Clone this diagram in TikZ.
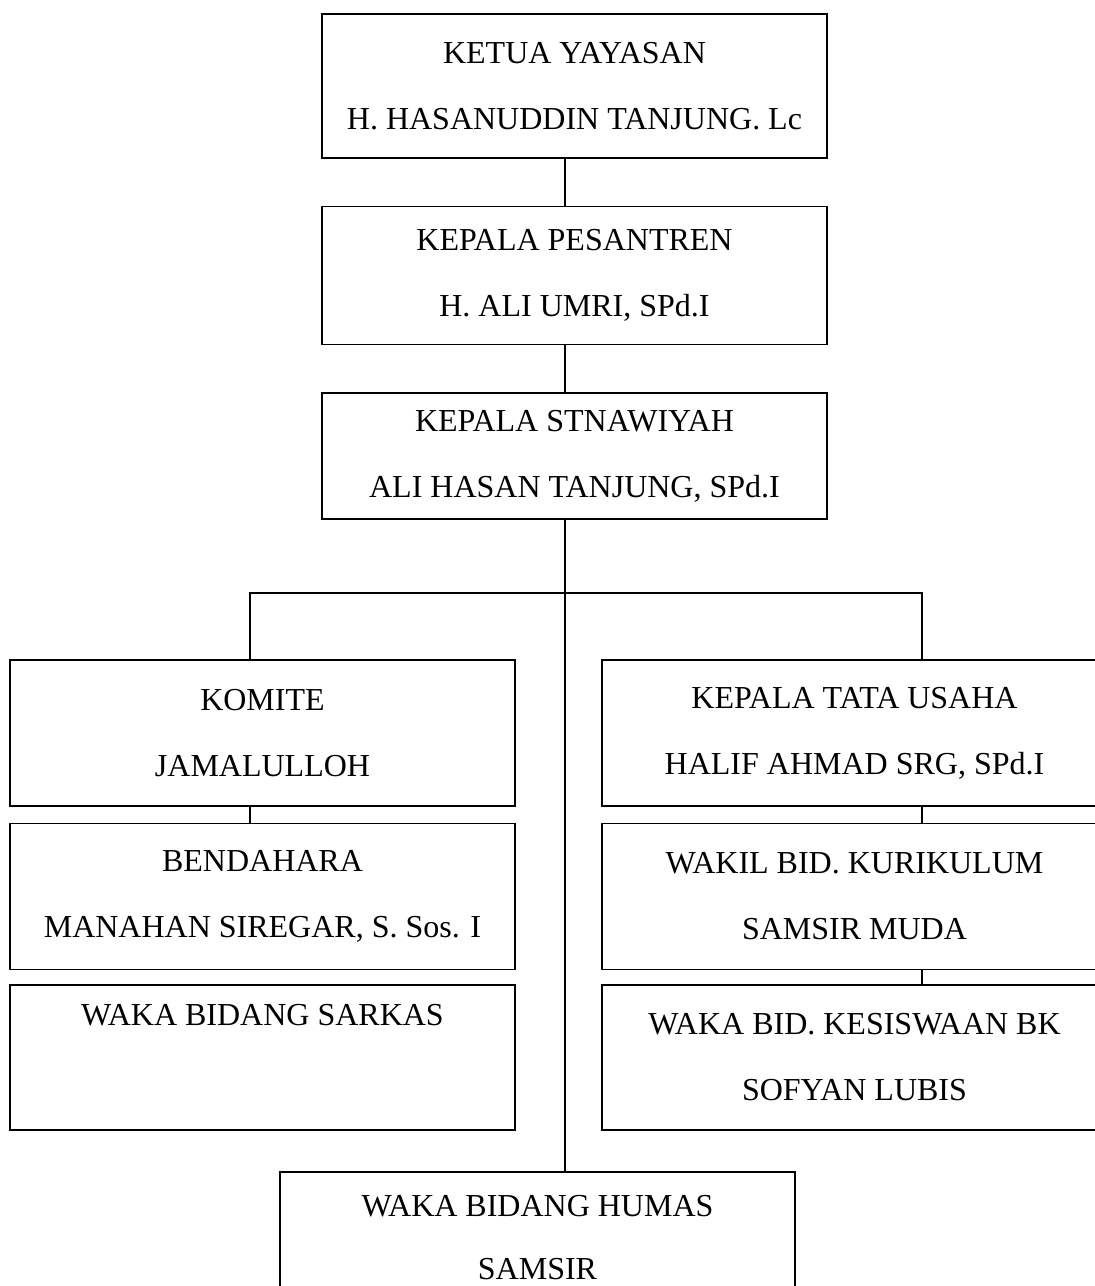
\documentclass[tikz,border=0pt]{standalone}
\usepackage{fontspec}
\setmainfont{Liberation Serif}
\usetikzlibrary{positioning}
\tikzstyle{jabatan} = [rectangle, draw=black, line width=1.5pt, minimum width=505pt, minimum height=144pt, inner sep=0pt, align=center, font=\fontsize{32}{66}\selectfont]
\tikzstyle{garis} = [line width=1.5pt]
\begin{document}
\begin{tikzpicture}[x=1pt, y=-1pt, node distance=47pt]
\useasboundingbox (0,0) rectangle (1095,1286);
% pimpinan
\node (ketua) [jabatan] at (574.5,86) {KETUA YAYASAN\\H. HASANUDDIN TANJUNG. Lc};
\node (pesantren) [jabatan, minimum height=138pt, below=of ketua] {KEPALA PESANTREN\\H. ALI UMRI, SPd.I};
\node (stnawiyah) [jabatan, minimum height=126pt, below=of pesantren] {KEPALA STNAWIYAH\\ALI HASAN TANJUNG, SPd.I};

% kolom kiri
\node (komite) [jabatan, minimum height=146pt] at (262.5,733) {KOMITE\\JAMALULLOH};
\node (bendahara) [jabatan, minimum height=146pt, below=16pt of komite] {BENDAHARA\\MANAHAN SIREGAR, S. Sos. I};
\node (sarkas) [jabatan, minimum height=145pt, below=14pt of bendahara] {WAKA BIDANG SARKAS\\\strut};

% kolom kanan
\node (tatausaha) [jabatan, minimum height=146pt] at (854.5,733) {KEPALA TATA USAHA\\HALIF AHMAD SRG, SPd.I};
\node (kurikulum) [jabatan, minimum height=146pt, below=16pt of tatausaha] {WAKIL BID. KURIKULUM\\SAMSIR MUDA};
\node (kesiswaan) [jabatan, minimum height=145pt, below=14pt of kurikulum] {WAKA BID. KESISWAAN BK\\SOFYAN LUBIS};

\node (humas) [jabatan, minimum width=515pt, minimum height=132pt, font=\fontsize{32}{63}\selectfont] at (537.5,1238) {WAKA BIDANG HUMAS\\SAMSIR};

\coordinate (batang) at (565,0);
\coordinate (kiri) at (250,593);
\coordinate (kanan) at (922,593);

\draw [garis] (ketua.south -| batang) -- (pesantren.north -| batang);
\draw [garis] (pesantren.south -| batang) -- (stnawiyah.north -| batang);
\draw [garis] (stnawiyah.south -| batang) -- (humas.north -| batang);
\draw [garis] (komite.north -| kiri) -- (kiri) -- (kanan) -- (tatausaha.north -| kanan);
\draw [garis] (komite.south -| kiri) -- (bendahara.north -| kiri);
\draw [garis] (tatausaha.south -| kanan) -- (kurikulum.north -| kanan);
\draw [garis] (kurikulum.south -| kanan) -- (kesiswaan.north -| kanan);
\end{tikzpicture}
\end{document}
